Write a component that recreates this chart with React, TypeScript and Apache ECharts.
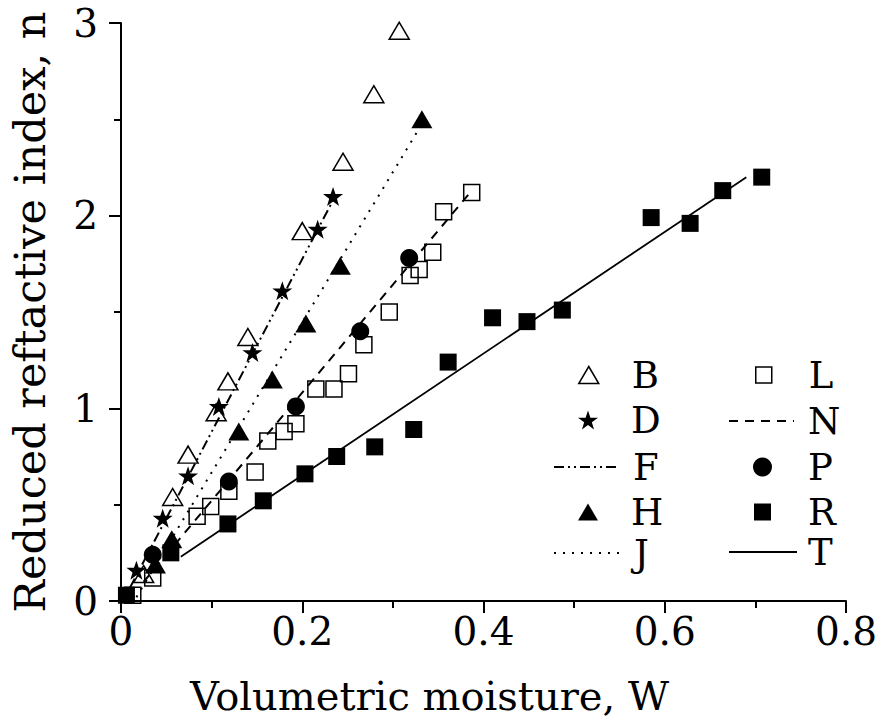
import { useEffect, useRef } from 'react';
import * as echarts from 'echarts';

// Open triangles (B)
const bX = [0.025, 0.057, 0.074, 0.105, 0.118, 0.14, 0.2, 0.245, 0.279, 0.307];
const bY = [0.14, 0.54, 0.76, 0.98, 1.14, 1.37, 1.92, 2.28, 2.63, 2.96];
// Stars (D)
const dX = [0.017, 0.046, 0.074, 0.108, 0.145, 0.178, 0.217, 0.234];
const dY = [0.16, 0.43, 0.65, 1.01, 1.29, 1.61, 1.93, 2.1];
// Dash-dot-dot fit (F)
const fX = [0.01, 0.234];
const fY = [0.07, 2.08];
// Filled triangles (H)
const hX = [0.038, 0.056, 0.13, 0.167, 0.204, 0.242, 0.332];
const hY = [0.19, 0.32, 0.88, 1.15, 1.44, 1.74, 2.5];
// Dotted fit (J)
const jX = [0.017, 0.33];
const jY = [0.02, 2.46];
// Open squares (L)
const lX = [0.013, 0.035, 0.084, 0.099, 0.119, 0.148, 0.162, 0.18, 0.193, 0.215, 0.235, 0.251, 0.268, 0.296, 0.319, 0.329, 0.344, 0.356, 0.387];
const lY = [0.03, 0.12, 0.44, 0.49, 0.57, 0.67, 0.83, 0.88, 0.92, 1.1, 1.1, 1.18, 1.33, 1.5, 1.69, 1.72, 1.81, 2.02, 2.12];
// Dashed fit (N)
const nX = [0.025, 0.387];
const nY = [0.1, 2.13];
// Filled circles (P)
const pX = [0.035, 0.119, 0.193, 0.264, 0.318];
const pY = [0.24, 0.62, 1.01, 1.4, 1.78];
// Filled squares (R)
const rX = [0.006, 0.055, 0.118, 0.157, 0.203, 0.238, 0.28, 0.323, 0.361, 0.41, 0.448, 0.487, 0.585, 0.628, 0.664, 0.707];
const rY = [0.03, 0.25, 0.4, 0.52, 0.66, 0.75, 0.8, 0.89, 1.24, 1.47, 1.45, 1.51, 1.99, 1.96, 2.13, 2.2];
// Solid fit (T)
const tX = [0.066, 0.69];
const tY = [0.23, 2.2];

const xAxisTitle = 'Volumetric moisture, W';
const yAxisTitle = 'Reduced reftactive index, n';

const FONT = 'DejaVu Serif';
const STAR = 'path://M50 0 L61.8 35.1 L98.9 35.1 L68.9 57.3 L79.4 92.7 L50 71 L20.6 92.7 L31.1 57.3 L1.1 35.1 L38.2 35.1 Z';
const HOLLOW = 'rgba(255,255,255,0)';

const zip = (xs: number[], ys: number[]) => xs.map((x, i) => [x, ys[i]]);

export default function App() {
  const ref = useRef<HTMLDivElement>(null);
  useEffect(() => {
    if (!ref.current) return;
    const chart = echarts.init(ref.current, undefined, { renderer: 'svg' });

    const LH = 38;
    const leg = (name: string, left: number, cy: number, w: number, h: number, textLeft: number, extra: any = {}) => ({
      data: [name],
      left,
      top: cy - LH / 2,
      orient: 'horizontal',
      padding: 0,
      itemWidth: w,
      itemHeight: h,
      itemGap: 0,
      selectedMode: false,
      textStyle: {
        fontFamily: FONT,
        fontSize: 37,
        color: '#000',
        lineHeight: LH,
        padding: [0, 0, 0, Math.max(0, textLeft - (left + w + 5))],
      },
      ...extra,
    });
    const lineLegendStyle = { itemStyle: { color: 'rgba(0,0,0,0)', borderWidth: 0, opacity: 0 } };

    const lineSeries = (name: string, xs: number[], ys: number[], type: any, width = 2) => ({
      name,
      type: 'line',
      data: zip(xs, ys),
      symbol: 'none',
      z: 3,
      itemStyle: { color: '#000' },
      lineStyle: { color: '#000', width, type },
    });

    const axisCommon = {
      type: 'value',
      nameLocation: 'middle',
      axisLine: { show: true, lineStyle: { color: '#000', width: 2 } },
      axisTick: { show: true, inside: false, length: 12, lineStyle: { color: '#000', width: 2 } },
      minorTick: { show: true, splitNumber: 2, length: 7, lineStyle: { color: '#000', width: 2 } },
      splitLine: { show: false },
    };

    chart.setOption({
      animation: false,
      backgroundColor: '#fff',
      grid: { left: 120, right: 39, top: 23, bottom: 118 },
      xAxis: {
        ...axisCommon,
        min: 0,
        max: 0.8,
        interval: 0.2,
        name: xAxisTitle,
        nameGap: 75,
        nameTextStyle: { fontFamily: FONT, fontSize: 40, color: '#000', padding: [0, 108, 0, 0] },
        axisLabel: { fontFamily: FONT, fontSize: 39, color: '#000', margin: 11 },
      },
      yAxis: {
        ...axisCommon,
        min: 0,
        max: 3,
        interval: 1,
        name: yAxisTitle,
        nameGap: 70,
        nameTextStyle: { fontFamily: FONT, fontSize: 43, color: '#000' },
        axisLabel: { fontFamily: FONT, fontSize: 39, color: '#000', margin: 23 },
      },
      legend: [
        leg('B', 578, 375, 20, 17, 631, { itemStyle: { borderWidth: 1.5 } }),
        leg('D', 578, 420, 20, 20, 631),
        leg('F', 553, 467, 64, 20, 632, lineLegendStyle),
        leg('H', 578, 512, 20, 17, 631),
        leg('J', 553, 553, 68, 20, 633, lineLegendStyle),
        leg('L', 755, 375, 16, 16, 808, { itemStyle: { borderWidth: 1.5 } }),
        leg('N', 728, 421, 65, 20, 807, lineLegendStyle),
        leg('P', 753, 467, 19, 19, 808),
        leg('R', 754, 512, 17, 17, 808),
        leg('T', 728, 552, 68, 20, 807, lineLegendStyle),
      ],
      series: [
        lineSeries('F', fX, fY, [10, 4, 2, 4, 2, 4]),
        lineSeries('J', jX, jY, [2, 7]),
        lineSeries('N', nX, nY, [9, 7]),
        lineSeries('T', tX, tY, 'solid', 1.8),
        {
          name: 'B', type: 'scatter', data: zip(bX, bY), symbol: 'triangle', symbolSize: [20, 17], z: 4,
          itemStyle: { color: HOLLOW, borderColor: '#000', borderWidth: 1.5, opacity: 1 },
        },
        {
          name: 'L', type: 'scatter', data: zip(lX, lY), symbol: 'rect', symbolSize: 16, z: 4,
          itemStyle: { color: HOLLOW, borderColor: '#000', borderWidth: 1.5, opacity: 1 },
        },
        {
          name: 'D', type: 'scatter', data: zip(dX, dY), symbol: STAR, symbolSize: 20, symbolKeepAspect: true, z: 5,
          itemStyle: { color: '#000', opacity: 1 },
        },
        {
          name: 'H', type: 'scatter', data: zip(hX, hY), symbol: 'triangle', symbolSize: [21, 18], z: 5,
          itemStyle: { color: '#000', opacity: 1 },
        },
        {
          name: 'P', type: 'scatter', data: zip(pX, pY), symbol: 'circle', symbolSize: 18, z: 5,
          itemStyle: { color: '#000', opacity: 1 },
        },
        {
          name: 'R', type: 'scatter', data: zip(rX, rY), symbol: 'rect', symbolSize: 17, z: 5,
          itemStyle: { color: '#000', opacity: 1 },
        },
      ],
    });
    return () => chart.dispose();
  }, []);
  return <div ref={ref} style={{ position: 'fixed', left: 0, top: 0, width: 885, height: 721 }} />;
}
